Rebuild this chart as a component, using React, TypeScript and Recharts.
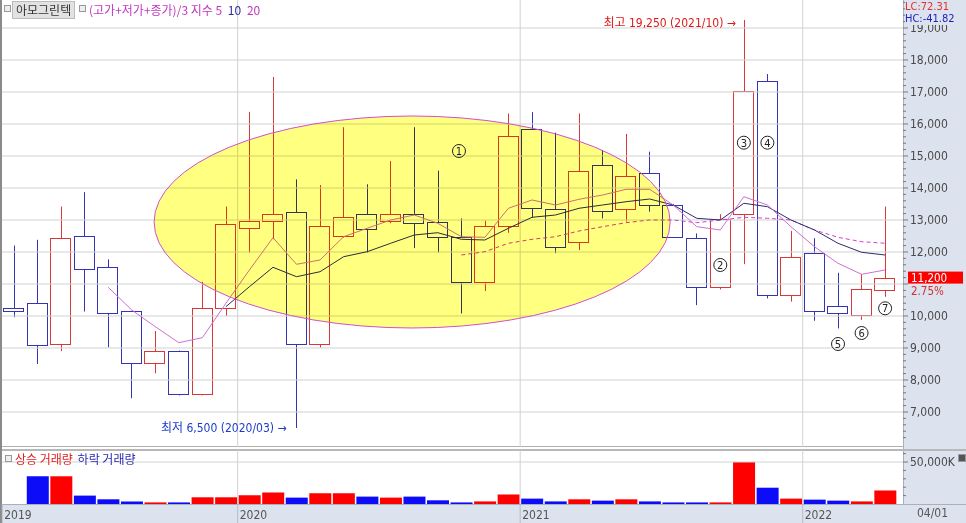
import React from 'react';
import {
  ComposedChart, Bar, Line, XAxis, YAxis, ReferenceLine, ReferenceArea, ReferenceDot, Cell,
} from 'recharts';

// ---------- DATA ----------
const MONTHS = [
  '2019/03', '2019/04', '2019/05', '2019/06', '2019/07', '2019/08', '2019/09', '2019/10', '2019/11', '2019/12',
  '2020/01', '2020/02', '2020/03', '2020/04', '2020/05', '2020/06', '2020/07', '2020/08', '2020/09', '2020/10', '2020/11', '2020/12',
  '2021/01', '2021/02', '2021/03', '2021/04', '2021/05', '2021/06', '2021/07', '2021/08', '2021/09', '2021/10', '2021/11', '2021/12',
  '2022/01', '2022/02', '2022/03', '2022/04',
];
const OPEN = [10240, 10400, 9130, 12510, 11540, 10160, 8530, 8920, 7550, 10240,
  12740, 12960, 13260, 9130, 12500, 13180, 12980, 13180, 12950, 12460, 11050, 12810,
  15830, 13330, 12300, 14710, 13330, 14480, 13470, 12450, 10920, 13180, 17340, 10650,
  11960, 10310, 10040, 10800];
const HIGH = [12200, 12380, 13420, 13870, 11770, 10160, 9530, 8920, 11070, 13420,
  16380, 17470, 14270, 14090, 15900, 14115, 14840, 15900, 14540, 13050, 12980, 16330,
  16370, 15730, 16330, 15190, 15690, 15135, 13500, 12580, 13180, 19250, 17560, 12660,
  12430, 11350, 11310, 13420];
const LOW = [9960, 8500, 8900, 10140, 9020, 7430, 8210, 7520, 7520, 10000,
  11980, 12400, 6500, 9010, 12450, 11980, 12900, 12120, 11980, 10080, 10780, 12600,
  13080, 11960, 12060, 13050, 12950, 13260, 12440, 10340, 10830, 11620, 10550, 10450,
  9850, 9610, 9880, 10600];
const CLOSE = [10170, 9100, 12450, 11460, 10090, 8530, 8920, 7550, 10240, 12870,
  12970, 13190, 9130, 12810, 13100, 12710, 13180, 12900, 12460, 11050, 12810, 15625,
  13370, 12160, 14530, 13280, 14375, 13470, 12460, 10920, 13020, 17030, 10650, 11850,
  10160, 10080, 10850, 11200];
// volume in thousands of shares (K)
const VOLUME = [0, 33000, 33000, 10000, 5600, 3100, 1900, 1900, 8000, 8000,
  10400, 13700, 7600, 12800, 12800, 8800, 7600, 8800, 4400, 1900, 3100, 11300,
  6400, 3100, 5600, 4000, 5600, 3100, 1900, 1900, 1900, 50000, 19400, 6400,
  5200, 4000, 3100, 16100];
// exponential moving averages of (H+L+C)/3
const MA5 = [null, null, null, null, 10897, 10188, 9666, 9166, 9322, 10397,
  11438, 12447, 11616, 11750, 12478, 12741, 13000, 13156, 12897, 12478, 12459, 13366,
  13625, 13469, 13647, 13781, 13959, 13959, 13469, 12791, 12688, 13728, 13469, 12791,
  12166, 11647, 11303, 11438];
const MA10 = [null, null, null, null, null, null, null, null, null, 10291,
  10916, 11522, 11228, 11384, 11853, 12009, 12272, 12531, 12603, 12397, 12375, 12741,
  13084, 13156, 13366, 13469, 13572, 13656, 13469, 13053, 13000, 13522, 13416, 13000,
  12688, 12272, 11991, 11906];
const MA20 = [null, null, null, null, null, null, null, null, null, null,
  null, null, null, null, null, null, null, null, null, 11906, 12009, 12272,
  12397, 12478, 12656, 12791, 12916, 13000, 13000, 12916, 13000, 13084, 13053, 13000,
  12688, 12459, 12322, 12272];

const YEAR_TICKS = [-0.5, 9.5, 21.5, 33.5];
const YEAR_LABELS = ['2019', '2020', '2021', '2022'];
const PRICE_GRID = [7000, 8000, 9000, 10000, 11000, 12000, 13000, 14000, 15000, 16000, 17000, 18000, 19000];
const VOL_TICKS = [10000, 20000, 30000, 40000, 50000, 60000];

const HIGH_NOTE = { i: 31, v: 19250, text: '최고 19,250 (2021/10) →' };
const LOW_NOTE = { i: 12, v: 6500, text: '최저 6,500 (2020/03) →' };
const CIRCLE_MARKS = [
  { n: '1', i: 18.9, v: 15156 },
  { n: '2', i: 30, v: 11594 },
  { n: '3', i: 31, v: 15416 },
  { n: '4', i: 32, v: 15416 },
  { n: '5', i: 35, v: 9125 },
  { n: '6', i: 36, v: 9469 },
  { n: '7', i: 37, v: 10240 },
];
const ZONE = { i1: 5.95, i2: 27.87, v1: 9625, v2: 16250 };
const LAST_PRICE = 11200;
const LAST_CHANGE = '2.75%';

// ---------- STYLE ----------
const X_DOMAIN = [-0.51, 37.76];
const PRICE_DOMAIN = [5906, 19875];
const VOL_DOMAIN = [0, 64300];
const RED = '#d83838';
const BLUE = '#3434b4';
const VRED = '#ff0000';
const VBLUE = '#0c0cf8';
const GRID = '#d2d2d2';
const PANEL_BG = '#dce3ee';
const FONT_NUM = "'Liberation Sans Narrow', 'DejaVu Sans Condensed', 'Liberation Sans', 'Noto Sans CJK KR', sans-serif";
const FONT_KR = "'Noto Sans CJK KR', sans-serif";

const data = MONTHS.map((m, i) => ({
  i,
  month: m,
  open: OPEN[i],
  high: HIGH[i],
  low: LOW[i],
  close: CLOSE[i],
  range: [LOW[i], HIGH[i]],
  vol: VOLUME[i],
  ma5: MA5[i],
  ma10: MA10[i],
  ma20: MA20[i],
}));

const PRICE_AXIS_TICKS: number[] = [];
for (let v = 6200; v <= 19800; v += 200) PRICE_AXIS_TICKS.push(v);

const fmt = (v: number) => v.toLocaleString('en-US');

const Candle = (props: any) => {
  const { x, y, width, height, payload } = props;
  if (!payload || x == null) return null;
  const { open, close, high, low } = payload;
  const top0 = Math.min(y, y + height);
  const h = Math.abs(height);
  const ppu = h / (high - low || 1);
  const yOf = (v: number) => top0 + (high - v) * ppu;
  const up = close >= open;
  const color = up ? RED : BLUE;
  const cx = Math.round(x + width / 2) + 0.5;
  const bt = Math.round(yOf(Math.max(open, close))) + 0.5;
  const bb = Math.round(yOf(Math.min(open, close))) + 0.5;
  const bx = Math.round(x) + 0.5;
  const bw = Math.round(width) - 1;
  return (
    <g>
      <line x1={cx} x2={cx} y1={top0} y2={bt} stroke={color} strokeWidth={1} />
      <line x1={cx} x2={cx} y1={bb} y2={top0 + h} stroke={color} strokeWidth={1} />
      <rect x={bx} y={bt} width={bw} height={Math.max(bb - bt, 1)} fill="none" stroke={color} strokeWidth={1} />
    </g>
  );
};

const ZoneShape = (props: any) => {
  const { x, y, width, height } = props;
  const cx = x + width / 2;
  const cy = y + height / 2;
  return (
    <g>
      <ellipse cx={cx} cy={cy} rx={width / 2} ry={height / 2} fill="#ffff80" style={{ mixBlendMode: 'multiply' }} />
      <ellipse cx={cx} cy={cy} rx={width / 2} ry={height / 2} fill="none" stroke="#d050d0" strokeWidth={1} />
    </g>
  );
};

const PriceTick = (props: any) => {
  const { x, y, payload } = props;
  const v = payload.value;
  const major = v % 1000 === 0;
  // the last-price box covers the label next to it
  const covered = Math.abs(v - LAST_PRICE) < 500;
  return (
    <g>
      <line x1={x} x2={x + (major ? 5 : 3)} y1={y} y2={y} stroke="#777" />
      {major && v >= 7000 && !covered && (
        <text x={x + 7} y={y + 4} fontSize={12} fill="#4a4a4a" fontFamily={FONT_NUM}>{fmt(v)}</text>
      )}
    </g>
  );
};

const VolTick = (props: any) => {
  const { x, y, payload } = props;
  const v = payload.value;
  const major = v === 50000;
  return (
    <g>
      <line x1={x} x2={x + (major ? 5 : 3)} y1={y} y2={y} stroke="#777" />
      {major && (
        <text x={x + 7} y={y + 4} fontSize={12} fill="#4a4a4a" fontFamily={FONT_NUM}>{fmt(v) + 'K'}</text>
      )}
    </g>
  );
};

const YearTick = (props: any) => {
  const { x, y, payload } = props;
  const idx = YEAR_TICKS.indexOf(payload.value);
  return (
    <g>
      <line x1={x} x2={x} y1={y} y2={y + 19} stroke="#b8bcc4" />
      <text x={x + 2} y={y + 15} fontSize={12} fill="#555" fontFamily={FONT_NUM}>{YEAR_LABELS[idx]}</text>
    </g>
  );
};

const LastPriceLabel = (props: any) => {
  const { viewBox } = props;
  if (!viewBox) return null;
  const x = viewBox.x + viewBox.width + 5;
  const y = viewBox.y;
  return (
    <g>
      <rect x={x} y={y - 6} width={55} height={12} fill="#ff0000" />
      <text x={x + 3} y={y + 4.5} fontSize={11.5} fill="#fff" fontFamily={FONT_NUM}>{fmt(LAST_PRICE)}</text>
      <text x={x + 3} y={y + 17} fontSize={11.5} fill="#d03030" fontFamily={FONT_NUM}>{LAST_CHANGE}</text>
    </g>
  );
};

export default function App() {
  return (
    <div style={{ position: 'absolute', left: 0, top: 0, width: 966, height: 523, background: '#fff', overflow: 'hidden', fontFamily: FONT_NUM }}>
      {/* right axis column and bottom date strip backgrounds */}
      <div style={{ position: 'absolute', left: 903, top: 0, width: 63, height: 523, background: PANEL_BG, borderLeft: '1px solid #a8b0bc', boxSizing: 'border-box' }} />
      <div style={{ position: 'absolute', left: 0, top: 504, width: 966, height: 19, background: PANEL_BG, borderTop: '1px solid #a8b0bc', boxSizing: 'border-box' }} />
      {/* panel borders */}
      <div style={{ position: 'absolute', left: 0, top: 446, width: 903, height: 1, background: '#b0b0b0' }} />
      <div style={{ position: 'absolute', left: 0, top: 449, width: 966, height: 2, background: '#b8b8b8' }} />
      <div style={{ position: 'absolute', left: 0, top: 0, width: 2, height: 523, background: '#8a8a8a' }} />

      <div style={{ position: 'absolute', left: 0, top: 0 }}>
        <ComposedChart width={966} height={447} data={data} margin={{ top: 0, right: 0, left: 2, bottom: 0 }}>
          <XAxis dataKey="i" type="number" domain={X_DOMAIN} hide allowDataOverflow />
          <YAxis orientation="right" width={63} domain={PRICE_DOMAIN} ticks={PRICE_AXIS_TICKS} interval={0}
            tick={<PriceTick />} tickSize={0} tickMargin={0} tickLine={false} axisLine={false} allowDataOverflow />
          {PRICE_GRID.map((p) => (
            <ReferenceLine key={'g' + p} y={p} stroke={GRID} strokeWidth={1} />
          ))}
          {YEAR_TICKS.slice(1).map((t) => (
            <ReferenceLine key={'v' + t} x={t} stroke={GRID} strokeWidth={1} />
          ))}
          <Bar dataKey="range" barSize={21} shape={(p: any) => <Candle {...p} />} isAnimationActive={false} />
          <ReferenceArea x1={ZONE.i1} x2={ZONE.i2} y1={ZONE.v1} y2={ZONE.v2} shape={(p: any) => <ZoneShape {...p} />} zIndex={450} ifOverflow="visible" />
          <Line dataKey="ma20" stroke="#d040d0" strokeWidth={1} strokeDasharray="4 3" dot={false} isAnimationActive={false} connectNulls={false} />
          <Line dataKey="ma10" stroke="#2c2c74" strokeWidth={1} dot={false} isAnimationActive={false} connectNulls={false} />
          <Line dataKey="ma5" stroke="#d070d0" strokeWidth={1} dot={false} isAnimationActive={false} connectNulls={false} />
          <ReferenceDot x={HIGH_NOTE.i} y={HIGH_NOTE.v} r={0} ifOverflow="visible"
            shape={(p: any) => (
              <text x={p.cx - 8} y={p.cy + 7} textAnchor="end" fontSize={12} fill="#e01818" fontFamily={FONT_NUM}>{HIGH_NOTE.text}</text>
            )} />
          <ReferenceDot x={LOW_NOTE.i} y={LOW_NOTE.v} r={0} ifOverflow="visible"
            shape={(p: any) => (
              <text x={p.cx - 10} y={p.cy + 4} textAnchor="end" fontSize={12} fill="#1c3cc8" fontFamily={FONT_NUM}>{LOW_NOTE.text}</text>
            )} />
          {CIRCLE_MARKS.map((m) => (
            <ReferenceDot key={'c' + m.n} x={m.i} y={m.v} r={0} ifOverflow="visible"
              shape={(p: any) => (
                <g>
                  <circle cx={p.cx} cy={p.cy} r={6.5} fill="none" stroke="#222" strokeWidth={1} />
                  <text x={p.cx} y={p.cy + 4} textAnchor="middle" fontSize={10} fill="#222" fontFamily="'DejaVu Sans', sans-serif">{m.n}</text>
                </g>
              )} />
          ))}
          <ReferenceLine y={LAST_PRICE} stroke="none" ifOverflow="visible" label={<LastPriceLabel />} />
        </ComposedChart>
      </div>

      <div style={{ position: 'absolute', left: 0, top: 450 }}>
        <ComposedChart width={966} height={73} data={data} margin={{ top: 0, right: 0, left: 2, bottom: 0 }}>
          <XAxis dataKey="i" type="number" domain={X_DOMAIN} ticks={YEAR_TICKS} interval={0} height={19}
            tick={<YearTick />} tickSize={0} tickMargin={0} tickLine={false} axisLine={false} allowDataOverflow />
          <YAxis orientation="right" width={63} domain={VOL_DOMAIN} ticks={VOL_TICKS} interval={0}
            tick={<VolTick />} tickSize={0} tickMargin={0} tickLine={false} axisLine={false} allowDataOverflow />
          <ReferenceLine y={50000} stroke={GRID} />
          {YEAR_TICKS.slice(1).map((t) => (
            <ReferenceLine key={'vv' + t} x={t} stroke={GRID} strokeWidth={1} />
          ))}
          <Bar dataKey="vol" barSize={22} isAnimationActive={false}>
            {data.map((d) => (
              <Cell key={d.month} fill={d.close >= d.open ? VRED : VBLUE} />
            ))}
          </Bar>
        </ComposedChart>
      </div>

      {/* header legend */}
      <div style={{ position: 'absolute', left: 4, top: 5, width: 5, height: 5, border: '1px solid #999', background: '#eee' }} />
      <div style={{ position: 'absolute', left: 12, top: 1, height: 18, padding: '0 3px', background: '#e2e2e2', border: '1px solid #bbb', boxSizing: 'border-box', fontFamily: FONT_KR, fontSize: 12, lineHeight: '16px', color: '#333' }}>아모그린텍</div>
      <div style={{ position: 'absolute', left: 79, top: 5, width: 5, height: 5, border: '1px solid #999', background: '#eee' }} />
      <div style={{ position: 'absolute', left: 89, top: 1, fontFamily: FONT_KR, fontSize: 12, lineHeight: '17px', color: '#c038c0', whiteSpace: 'nowrap' }}>
        (고가+저가+종가)/3 지수 5 <span style={{ color: '#2c2c9c', marginLeft: 3 }}>10</span> <span style={{ color: '#c038c0', marginLeft: 3 }}>20</span>
      </div>

      {/* right top readouts (they sit over the top price label, as in the source) */}
      <div style={{ position: 'absolute', left: 905, top: 1, width: 61, fontFamily: FONT_NUM, fontSize: 11, lineHeight: '12px', background: PANEL_BG }}>
        <div style={{ color: '#e03030' }}>LC:72.31</div>
        <div style={{ color: '#2020c0' }}>HC:-41.82</div>
      </div>

      {/* volume legend */}
      <div style={{ position: 'absolute', left: 5, top: 455, width: 5, height: 5, border: '1px solid #999', background: '#eee' }} />
      <div style={{ position: 'absolute', left: 15, top: 451, fontFamily: FONT_KR, fontSize: 12, lineHeight: '16px', whiteSpace: 'nowrap' }}>
        <span style={{ color: '#e02020' }}>상승 거래량</span> <span style={{ color: '#2828b0', marginLeft: 2 }}>하락 거래량</span>
      </div>
      <div style={{ position: 'absolute', left: 958, top: 454, width: 6, height: 6, background: '#555', border: '1px solid #999' }} />

      {/* date at right of strip */}
      <div style={{ position: 'absolute', left: 917, top: 506, fontFamily: FONT_NUM, fontSize: 12, color: '#555' }}>04/01</div>
    </div>
  );
}
